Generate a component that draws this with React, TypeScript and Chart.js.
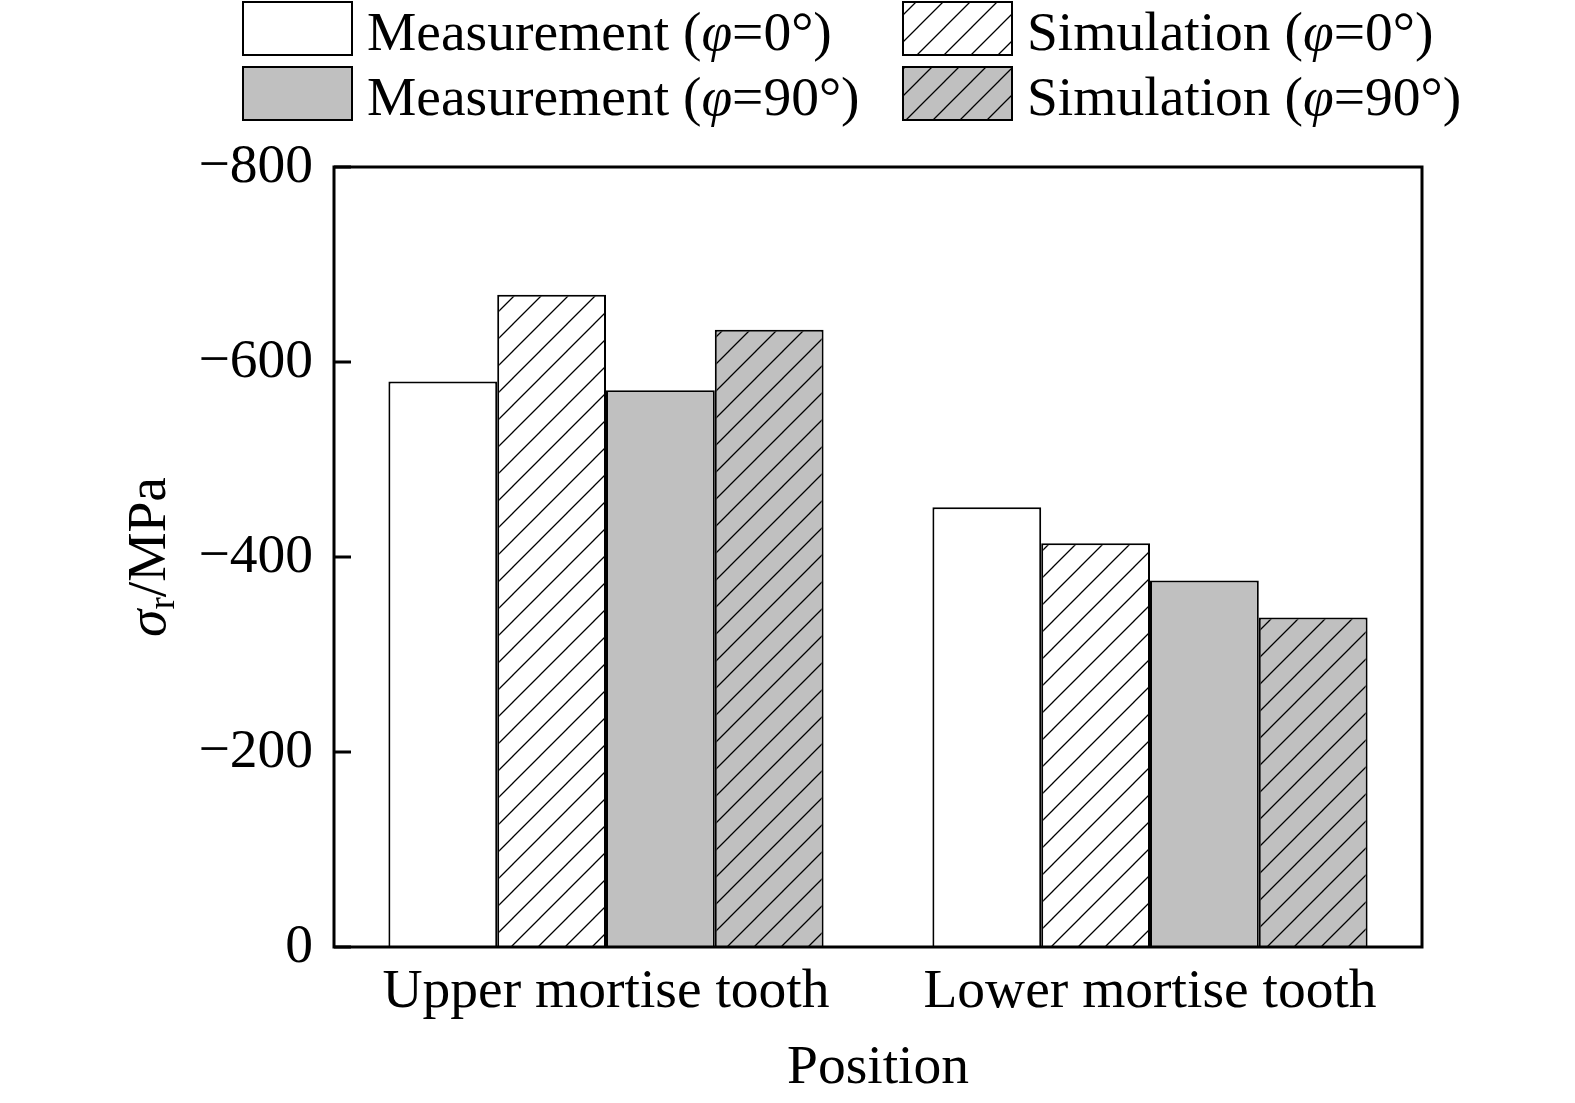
import { useEffect, useRef } from "react"
import { Chart, registerables } from "chart.js"

Chart.register(...registerables)

// Data (MPa, compressive => negative)
const categories = ["Upper mortise tooth", "Lower mortise tooth"]
const measurement0 = [-580, -451]
const simulation0 = [-669, -414]
const measurement90 = [-571, -376]
const simulation90 = [-633, -338]
const yTickValues = [0, -200, -400, -600, -800]

const seriesLabels = [
  ["Measurement (", "φ", "=0°)"],
  ["Simulation (", "φ", "=0°)"],
  ["Measurement (", "φ", "=90°)"],
  ["Simulation (", "φ", "=90°)"],
]

const FONT = '"Liberation Serif", "Times New Roman", serif'
const FS = 55.5
const GRAY = "#c0c0c0"

/**
 * Builds a "/" hatch pattern on the given background colour
 */
function makeHatch(bg: string): CanvasPattern | string {
  const size = 27
  const c = document.createElement("canvas")
  c.width = size
  c.height = size
  const g = c.getContext("2d")
  if (!g) return bg
  g.fillStyle = bg
  g.fillRect(0, 0, size, size)
  g.strokeStyle = "#000"
  g.lineWidth = 1.3
  g.beginPath()
  g.moveTo(-2, size + 2)
  g.lineTo(size + 2, -2)
  g.moveTo(-2, 2)
  g.lineTo(2, -2)
  g.moveTo(size - 2, size + 2)
  g.lineTo(size + 2, size - 2)
  g.stroke()
  const p = g.createPattern(c, "repeat")
  return p || bg
}

function drawParts(ctx: CanvasRenderingContext2D, parts: string[], x: number, y: number, size: number) {
  let cx = x
  parts.forEach((t, i) => {
    ctx.font = `${i === 1 ? "italic " : ""}${size}px ${FONT}`
    ctx.fillText(t, cx, y)
    cx += ctx.measureText(t).width
  })
}

const decorPlugin = {
  id: "decor",
  afterDatasetsDraw(chart: Chart) {
    const ctx = chart.ctx
    const { left, right, top, bottom } = chart.chartArea
    const yScale = chart.scales.y
    ctx.save()
    ctx.strokeStyle = "#000"
    ctx.lineWidth = 3
    ctx.strokeRect(left, top, right - left, bottom - top)
    // inward ticks on the left axis
    ctx.beginPath()
    yTickValues.forEach((v) => {
      const py = yScale.getPixelForValue(v)
      ctx.moveTo(left, py)
      ctx.lineTo(left + 17, py)
    })
    ctx.stroke()

    // x axis title
    ctx.fillStyle = "#000"
    ctx.textAlign = "center"
    ctx.textBaseline = "middle"
    ctx.font = `${FS}px ${FONT}`
    ctx.fillText("Position", (left + right) / 2, 1068)

    // y axis title: σr/MPa
    ctx.translate(150, (top + bottom) / 2)
    ctx.rotate(-Math.PI / 2)
    ctx.textAlign = "left"
    ctx.textBaseline = "middle"
    ctx.font = `italic ${FS}px ${FONT}`
    const wSigma = ctx.measureText("σ").width
    ctx.font = `37px ${FONT}`
    const wR = ctx.measureText("r").width
    ctx.font = `${FS}px ${FONT}`
    const wRest = ctx.measureText("/MPa").width
    const x0 = -(wSigma + wR + wRest) / 2
    ctx.font = `italic ${FS}px ${FONT}`
    ctx.fillText("σ", x0, 0)
    ctx.font = `37px ${FONT}`
    ctx.fillText("r", x0 + wSigma, 14)
    ctx.font = `${FS}px ${FONT}`
    ctx.fillText("/MPa", x0 + wSigma + wR, 0)
    ctx.restore()

    // legend in two columns
    ctx.save()
    ctx.textAlign = "left"
    ctx.textBaseline = "alphabetic"
    chart.data.datasets.forEach((ds, i) => {
      const col = i % 2
      const row = Math.floor(i / 2)
      const bx = col === 0 ? 243 : 903
      const by = row === 0 ? 2 : 67
      ctx.fillStyle = ds.backgroundColor as any
      ctx.fillRect(bx, by, 109, 53)
      ctx.strokeStyle = "#000"
      ctx.lineWidth = 2
      ctx.strokeRect(bx, by, 109, 53)
      ctx.fillStyle = "#000"
      drawParts(ctx, seriesLabels[i], bx + 124, row === 0 ? 50 : 115, FS)
    })
    ctx.restore()
  },
}

export default function App() {
  const chartRef = useRef<HTMLCanvasElement>(null)
  const chartInstance = useRef<Chart | null>(null)

  useEffect(() => {
    if (!chartRef.current) return
    if (chartInstance.current) chartInstance.current.destroy()
    document.body.style.margin = "0"
    document.body.style.overflow = "hidden"

    const hatchWhite = makeHatch("#ffffff")
    const hatchGray = makeHatch(GRAY)
    const common = { borderColor: "#000", borderWidth: 2, barPercentage: 1, categoryPercentage: 0.8 }

    chartInstance.current = new Chart(chartRef.current, {
      type: "bar",
      data: {
        labels: categories,
        datasets: [
          { label: "Measurement (φ=0°)", data: measurement0, backgroundColor: "#ffffff", ...common },
          { label: "Simulation (φ=0°)", data: simulation0, backgroundColor: hatchWhite as any, ...common },
          { label: "Measurement (φ=90°)", data: measurement90, backgroundColor: GRAY, ...common },
          { label: "Simulation (φ=90°)", data: simulation90, backgroundColor: hatchGray as any, ...common },
        ],
      },
      options: {
        responsive: true,
        maintainAspectRatio: false,
        animation: false,
        layout: { padding: { top: 167, right: 153, left: 0, bottom: 0 } },
        plugins: {
          legend: { display: false },
          tooltip: { enabled: false },
        },
        scales: {
          x: {
            grid: { display: false, drawTicks: false },
            border: { display: false },
            ticks: {
              color: "#000",
              font: { family: FONT, size: FS },
              padding: 12,
              maxRotation: 0,
              autoSkip: false,
            },
            afterFit: (s: any) => {
              s.height = 156
            },
          },
          y: {
            min: -800,
            max: 0,
            reverse: true,
            grid: { display: false, drawTicks: false },
            border: { display: false },
            ticks: {
              stepSize: 200,
              color: "#000",
              font: { family: FONT, size: FS },
              padding: 21,
              callback: (v: any) => (Number(v) === 0 ? "0" : "\u2212" + Math.abs(Number(v))),
            },
            afterFit: (s: any) => {
              s.width = 334
            },
          },
        },
      },
      plugins: [decorPlugin],
    })

    return () => {
      if (chartInstance.current) {
        chartInstance.current.destroy()
        chartInstance.current = null
      }
    }
  }, [])

  return (
    <div style={{ position: "fixed", left: 0, top: 0, width: 1575, height: 1103, background: "#fff" }}>
      <canvas ref={chartRef} />
    </div>
  )
}
